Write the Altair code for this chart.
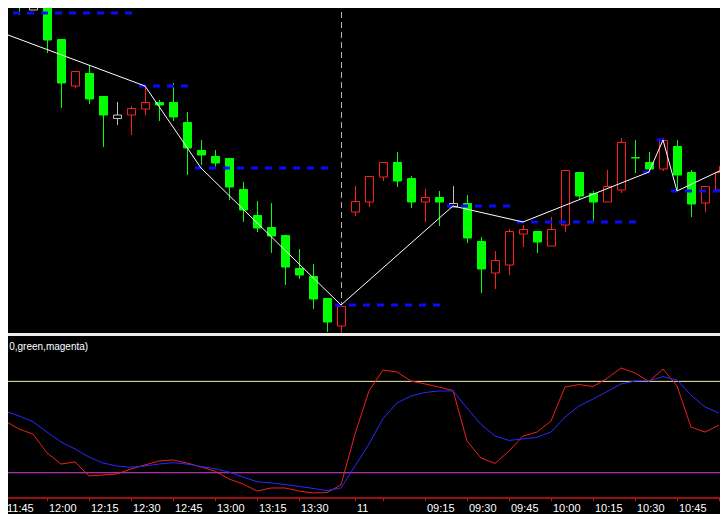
import altair as alt
import pandas as pd

# ---------------- data ----------------
BAR_IDX = list(range(52))  # 5-minute bars, 11:45 ... 11:00 next day
OPEN = [2342, 2331, 2324, 2325, 2293, 2246, 2259, 2236, 2215.5, 2217,
        2223, 2230, 2230, 2210, 2182, 2176, 2174, 2143, 2117, 2105,
        2097, 2064, 2056, 2034, 2006, 2120, 2130, 2155, 2170, 2154,
        2130, 2135, 2127, 2129, 2091, 2059, 2067, 2098, 2101, 2086,
        2107, 2160, 2139, 2130, 2142, 2175, 2170, 2163, 2186, 2160,
        2129, 2142]
HIGH = [2346, 2332, 2335, 2325, 2293, 2261, 2267, 2236, 2230, 2226,
        2245, 2232, 2249, 2220, 2192, 2182, 2174, 2150, 2131, 2129,
        2097, 2083, 2068, 2034, 2027, 2146, 2156, 2170, 2180, 2156,
        2143, 2141, 2146, 2137, 2095, 2081, 2103, 2107, 2101, 2115,
        2162, 2160, 2141, 2162, 2194, 2192, 2180, 2194, 2192, 2162,
        2146, 2166]
LOW = [2328, 2317, 2322, 2279, 2224, 2244, 2228, 2185, 2207, 2197,
       2217, 2211, 2211, 2157, 2167, 2165, 2132, 2110, 2100, 2079,
       2047, 2053, 2023, 2000, 1999, 2116, 2125, 2151, 2145, 2124,
       2110, 2106, 2125, 2089, 2039, 2043, 2057, 2085, 2079, 2086,
       2100, 2132, 2110, 2130, 2139, 2159, 2159, 2161, 2141, 2115,
       2120, 2142]
CLOSE = [2328, 2325, 2324, 2292, 2249, 2261, 2233, 2217, 2215.5, 2224,
         2230, 2227, 2215, 2184, 2177, 2169, 2145, 2122, 2104, 2096,
         2065, 2057, 2033, 2010, 2026, 2131, 2156, 2170, 2151, 2130,
         2135, 2130, 2127, 2094, 2063, 2072, 2101, 2103, 2090, 2103,
         2162, 2136, 2130, 2146, 2190, 2174, 2163, 2192, 2157, 2128,
         2146, 2160]

# zigzag vertices (bar index, price)
ZZ_IDX = [-4, 10, 14, 24, 32, 37, 46, 47, 48, 53]
ZZ_PRICE = [2319, 2246, 2164, 2027, 2126, 2110, 2160, 2192, 2141, 2174]

# stochastic: main (red) and signal (blue), one value per bar
STOCH_MAIN = [54.0, 48.7, 45.4, 33.0, 25.7, 27.1, 17.9, 18.5, 19.2, 22.5,
              25.1, 27.7, 28.4, 26.4, 23.8, 21.1, 15.9, 12.6, 8.0, 10.0,
              10.0, 8.0, 6.7, 7.0, 12.0, 45.4, 73.7, 87.5, 86.1, 80.2,
              78.3, 76.3, 74.0, 40.8, 29.7, 26.1, 34.3, 44.1, 46.7, 54.0,
              76.3, 77.9, 76.6, 81.9, 88.8, 85.5, 79.9, 88.1, 77.0, 50.0,
              46.7, 51.3]
STOCH_SIGNAL = [60.5, 57.3, 53.5, 46.7, 40.2, 35.6, 30.3, 26.4, 24.4, 23.6,
                24.4, 25.7, 26.6, 25.7, 24.1, 22.6, 20.5, 17.2, 14.1, 13.3,
                12.3, 11.0, 9.7, 8.3, 10.0, 24.4, 38.9, 55.6, 65.8, 70.4,
                72.7, 73.7, 73.7, 62.5, 51.7, 44.1, 41.2, 42.2, 43.3, 46.7,
                56.6, 63.8, 68.4, 73.3, 78.3, 80.2, 80.4, 83.1, 80.9, 71.0,
                63.2, 59.2]
LEVELS = [80, 20]
DAY_BREAK = 24
STOCH_TITLE = "0,green,magenta)"

TICK_IDX = [0, 3, 6, 9, 12, 15, 18, 21, 25, 27, 30, 33, 36, 39, 42, 45, 48, 51]
TICK_LBL = ["11:45", "12:00", "12:15", "12:30", "12:45", "13:00", "13:15", "13:30",
            "11", "", "09:15", "09:30", "09:45", "10:00", "10:15", "10:30", "10:45", "11:00"]

# ---------------- tables ----------------
candles = pd.DataFrame({"i": BAR_IDX, "open": OPEN, "high": HIGH, "low": LOW, "close": CLOSE})
zigzag = pd.DataFrame({"i": ZZ_IDX, "price": ZZ_PRICE})
lvl_rows = []
for i in range(ZZ_IDX[0], BAR_IDX[-1] + 1):
    k = max(j for j, v in enumerate(ZZ_IDX) if v <= i)
    lvl_rows.append({"i": i, "level": ZZ_PRICE[k]})
levels_df = pd.DataFrame(lvl_rows)
stoch = pd.DataFrame({"i": BAR_IDX, "main": STOCH_MAIN, "signal": STOCH_SIGNAL})
ticks = pd.DataFrame({"i": TICK_IDX, "label": TICK_LBL})
one = pd.DataFrame({"k": [0]})  # single row for annotation marks

# ---------------- scales ----------------
W, H = 712, 506
XS = alt.Scale(domain=[3 / 14, 715 / 14], nice=False, zero=False, padding=0)
PS = alt.Scale(domain=[1818, 2324], nice=False, zero=False, padding=0)
SS = alt.Scale(domain=[-7.09, 325.15], nice=False, zero=False, padding=0)
AXIS_V = 3.41      # stochastic-scale value where the time axis line sits
TICK_END_V = 1.44
LABEL_TOP_V = 0.13
AXIS_RED = "#d01414"


def X(field="i"):
    return alt.X(f"{field}:Q", scale=XS, axis=None)


def Yp(field):
    return alt.Y(f"{field}:Q", scale=PS, axis=None)


def Ys(field):
    return alt.Y(f"{field}:Q", scale=SS, axis=None)


dir_dom = ["up", "down", "flat"]
stroke_scale = alt.Scale(domain=dir_dom, range=["#ff1e1e", "#00ff00", "#c0c0c0"])
fill_scale = alt.Scale(domain=dir_dom, range=["#000000", "#00ff00", "#000000"])

base_c = alt.Chart(candles).transform_calculate(
    dir="datum.close > datum.open ? 'up' : (datum.close < datum.open ? 'down' : 'flat')",
    btop="max(datum.open, datum.close) + (datum.open == datum.close ? 2 : 0)",
    bbot="min(datum.open, datum.close) - (datum.open == datum.close ? 2 : 0)",
)

vline = alt.Chart(one).mark_rule(color="#b4b4b4", strokeWidth=1, strokeDash=[6, 4], clip=True, xOffset=0.5).encode(
    x=alt.X(datum=DAY_BREAK, type="quantitative", scale=XS, axis=None),
    y=alt.Y(datum=2340, type="quantitative", scale=PS, axis=None),
    y2=alt.datum(2000),
)

wicks = base_c.mark_rule(strokeWidth=1, clip=True, xOffset=0.5).encode(
    x=X(), y=Yp("high"), y2="low:Q",
    color=alt.Color("dir:N", scale=stroke_scale, legend=None),
)

bodies = base_c.mark_bar(width=8, strokeWidth=1, clip=True, xOffset=0.5, yOffset=0.5).encode(
    x=X(), y=Yp("btop"), y2="bbot:Q",
    fill=alt.Fill("dir:N", scale=fill_scale, legend=None),
    stroke=alt.Stroke("dir:N", scale=stroke_scale, legend=None),
)

dashes = alt.Chart(levels_df).mark_tick(orient="horizontal", size=7, thickness=3, color="#0a0aff",
                                         opacity=1, clip=True, xOffset=-2.5).encode(
    x=X(), y=Yp("level"),
)

zz = alt.Chart(zigzag).mark_line(color="white", strokeWidth=1, clip=True).encode(
    x=X(), y=Yp("price"), order="i:Q",
)

separator = alt.Chart(one).mark_rule(color="#ececec", strokeWidth=3).encode(
    y=alt.Y(datum=1997.5, type="quantitative", scale=PS, axis=None),
)

lvl_hi = alt.Chart(one).mark_rule(color="#f4f0a0", strokeWidth=1).encode(
    y=alt.Y(datum=LEVELS[0], type="quantitative", scale=SS, axis=None),
)
lvl_lo = alt.Chart(one).mark_rule(color="#e040e0", strokeWidth=1).encode(
    y=alt.Y(datum=LEVELS[1], type="quantitative", scale=SS, axis=None),
)

red = alt.Chart(stoch).mark_line(color="#f02020", strokeWidth=1, clip=True).encode(
    x=X(), y=Ys("main"))
blue = alt.Chart(stoch).mark_line(color="#2a2aff", strokeWidth=1, clip=True).encode(
    x=X(), y=Ys("signal"))

title_txt = alt.Chart(one).mark_text(text=STOCH_TITLE, align="left", baseline="alphabetic",
                                     color="white", font="Liberation Sans", fontSize=10).encode(
    x=alt.X(datum=0.3, type="quantitative", scale=XS, axis=None),
    y=alt.Y(datum=100.9, type="quantitative", scale=SS, axis=None),
)

# time axis drawn with marks
axis_line = alt.Chart(one).mark_rule(color=AXIS_RED, strokeWidth=1.5).encode(
    y=alt.Y(datum=AXIS_V, type="quantitative", scale=SS, axis=None),
)
axis_ticks = alt.Chart(ticks).mark_rule(color=AXIS_RED, strokeWidth=1, clip=True, xOffset=0.5).encode(
    x=X(),
    y=alt.Y(datum=AXIS_V, type="quantitative", scale=SS, axis=None),
    y2=alt.datum(TICK_END_V),
)
axis_labels = alt.Chart(ticks).mark_text(align="left", baseline="top", dx=2, color="white",
                                         font="Liberation Sans", fontSize=11, clip=True).encode(
    x=X(),
    y=alt.Y(datum=LABEL_TOP_V, type="quantitative", scale=SS, axis=None),
    text="label:N",
)

chart = alt.layer(
    vline, wicks, bodies, dashes, zz, separator, lvl_hi, lvl_lo, red, blue, title_txt,
    axis_line, axis_ticks, axis_labels
).resolve_scale(y="independent").properties(
    width=W, height=H,
    autosize=alt.AutoSizeParams(type="none"),
    padding=0,
    background="black",
).configure_view(stroke=None, fill="black")

chart.save("out.html", embed_options={"renderer": "svg", "actions": False})
